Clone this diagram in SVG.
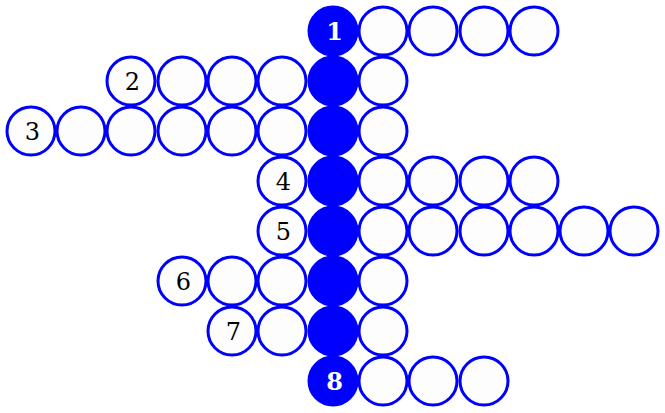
<svg xmlns="http://www.w3.org/2000/svg" width="665" height="413" viewBox="0 0 665 413">
<style>
.e{fill:#fdfdfd;stroke:#0000ff;stroke-width:3}
.f{fill:#0000ff;stroke:#0000ff;stroke-width:3}
.t{font-family:"DejaVu Serif","Liberation Serif",serif;font-size:24px;text-anchor:middle;fill:#000}
.w{font-family:"DejaVu Serif","Liberation Serif",serif;font-size:24px;font-weight:bold;text-anchor:middle;fill:#fff}
</style>
<rect width="665" height="413" fill="#fff"/>
<g id="row1">
<circle class="f" cx="333" cy="31" r="24"/><text class="w" x="334.5" y="39.5">1</text>
<circle class="e" cx="383" cy="31" r="24"/><circle class="e" cx="433" cy="31" r="24"/><circle class="e" cx="484" cy="31" r="24"/><circle class="e" cx="534" cy="31" r="24"/>
</g>
<g id="row2">
<circle class="e" cx="131" cy="81" r="24"/><text class="t" x="132.5" y="89.5">2</text>
<circle class="e" cx="182" cy="81" r="24"/><circle class="e" cx="232" cy="81" r="24"/><circle class="e" cx="282" cy="81" r="24"/>
<circle class="f" cx="333" cy="81" r="24"/><circle class="e" cx="383" cy="81" r="24"/>
</g>
<g id="row3">
<circle class="e" cx="31" cy="131" r="24"/><text class="t" x="32.5" y="139.5">3</text>
<circle class="e" cx="81" cy="131" r="24"/><circle class="e" cx="131" cy="131" r="24"/><circle class="e" cx="182" cy="131" r="24"/><circle class="e" cx="232" cy="131" r="24"/><circle class="e" cx="282" cy="131" r="24"/>
<circle class="f" cx="333" cy="131" r="24"/><circle class="e" cx="383" cy="131" r="24"/>
</g>
<g id="row4">
<circle class="e" cx="282" cy="181" r="24"/><text class="t" x="283.5" y="189.5">4</text>
<circle class="f" cx="333" cy="181" r="24"/>
<circle class="e" cx="383" cy="181" r="24"/><circle class="e" cx="433" cy="181" r="24"/><circle class="e" cx="484" cy="181" r="24"/><circle class="e" cx="534" cy="181" r="24"/>
</g>
<g id="row5">
<circle class="e" cx="282" cy="231" r="24"/><text class="t" x="283.5" y="239.5">5</text>
<circle class="f" cx="333" cy="231" r="24"/>
<circle class="e" cx="383" cy="231" r="24"/><circle class="e" cx="433" cy="231" r="24"/><circle class="e" cx="484" cy="231" r="24"/><circle class="e" cx="534" cy="231" r="24"/><circle class="e" cx="584" cy="231" r="24"/><circle class="e" cx="634" cy="231" r="24"/>
</g>
<g id="row6">
<circle class="e" cx="182" cy="281" r="24"/><text class="t" x="183.5" y="289.5">6</text>
<circle class="e" cx="232" cy="281" r="24"/><circle class="e" cx="282" cy="281" r="24"/>
<circle class="f" cx="333" cy="281" r="24"/><circle class="e" cx="383" cy="281" r="24"/>
</g>
<g id="row7">
<circle class="e" cx="232" cy="331" r="24"/><text class="t" x="233.5" y="339.5">7</text>
<circle class="e" cx="282" cy="331" r="24"/>
<circle class="f" cx="333" cy="331" r="24"/><circle class="e" cx="383" cy="331" r="24"/>
</g>
<g id="row8">
<circle class="f" cx="333" cy="381" r="24"/><text class="w" x="334.5" y="389.5">8</text>
<circle class="e" cx="383" cy="381" r="24"/><circle class="e" cx="433" cy="381" r="24"/><circle class="e" cx="484" cy="381" r="24"/>
</g>
<g id="connectors"></g>
</svg>
